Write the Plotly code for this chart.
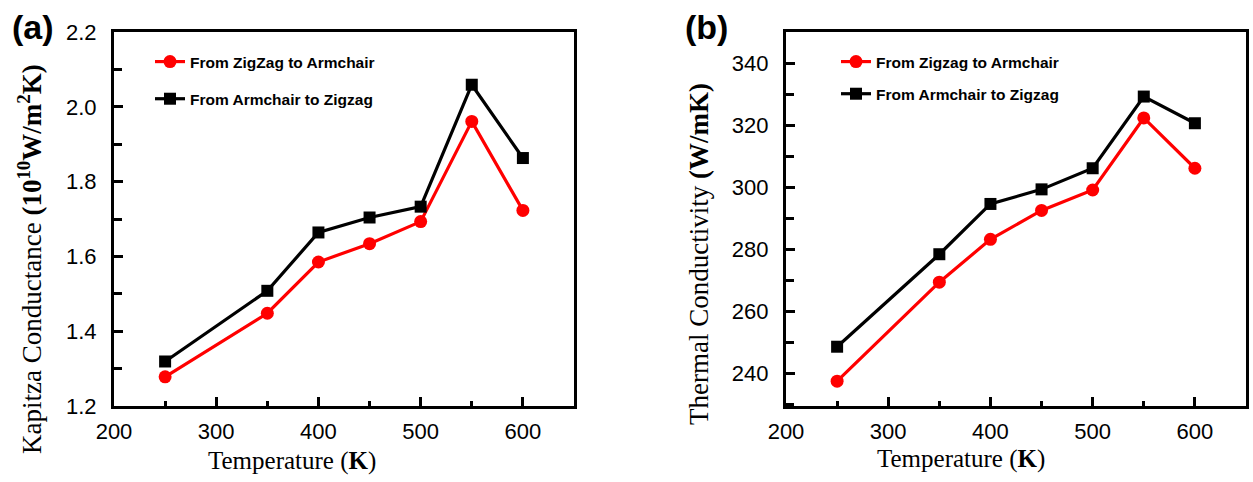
import plotly.graph_objects as go

W, H = 1253, 482

temps = [250, 350, 400, 450, 500, 550, 600]
# panel (a) Kapitza conductance (1e10 W/m^2K)
kap_zz_to_ac = [1.278, 1.448, 1.585, 1.634, 1.693, 1.961, 1.723]
kap_ac_to_zz = [1.319, 1.508, 1.664, 1.704, 1.733, 2.059, 1.863]
# panel (b) thermal conductivity (W/mK)
tc_zz_to_ac = [237.5, 269.4, 283.2, 292.5, 299.1, 322.3, 306.1]
tc_ac_to_zz = [248.6, 278.4, 294.6, 299.3, 306.1, 329.2, 320.6]

names_a = ["From ZigZag to Armchair", "From Armchair to Zigzag"]
names_b = ["From Zigzag to Armchair", "From Armchair to Zigzag"]

RED = "#ff0000"
BLACK = "#000000"
SANS = "Arial, Liberation Sans, sans-serif"
SERIF = "Times New Roman, Liberation Serif, serif"


def px_x(p):
    return p / W


def px_y(p):
    return 1 - p / H


fig = go.Figure()

fig.add_trace(go.Scatter(x=temps, y=kap_zz_to_ac, name=names_a[0], mode="lines+markers",
                         line=dict(color=RED, width=3.2), marker=dict(symbol="circle", size=13, color=RED),
                         xaxis="x", yaxis="y", legend="legend", legendgroup="a1"))
fig.add_trace(go.Scatter(x=temps, y=kap_ac_to_zz, name=names_a[1], mode="lines+markers",
                         line=dict(color=BLACK, width=3.2), marker=dict(symbol="square", size=12, color=BLACK),
                         xaxis="x", yaxis="y", legend="legend", legendgroup="a2"))
fig.add_trace(go.Scatter(x=temps, y=tc_zz_to_ac, name=names_b[0], mode="lines+markers",
                         line=dict(color=RED, width=3.2), marker=dict(symbol="circle", size=13, color=RED),
                         xaxis="x2", yaxis="y2", legend="legend2", legendgroup="b1"))
fig.add_trace(go.Scatter(x=temps, y=tc_ac_to_zz, name=names_b[1], mode="lines+markers",
                         line=dict(color=BLACK, width=3.2), marker=dict(symbol="square", size=12, color=BLACK),
                         xaxis="x2", yaxis="y2", legend="legend2", legendgroup="b2"))

common_axis = dict(showline=True, linewidth=3.2, linecolor=BLACK, mirror=True,
                   ticks="inside", ticklen=9, tickwidth=2.5, tickcolor=BLACK,
                   showgrid=False, zeroline=False, automargin=False,
                   tickfont=dict(family=SANS, size=22, color=BLACK))

xa = dict(common_axis, range=[200, 650], dtick=100, tick0=0,
          minor=dict(ticks="inside", ticklen=5, tickwidth=2.5, tickcolor=BLACK, dtick=50, tick0=0),
          ticklabelstandoff=3)

top = 32
bottom = 406
ydom = [px_y(bottom), px_y(top)]

fig.update_layout(
    width=W, height=H,
    margin=dict(l=0, r=0, t=0, b=0, pad=0, autoexpand=False),
    paper_bgcolor="white", plot_bgcolor="white",
    xaxis=dict(xa, domain=[px_x(114), px_x(574)], anchor="y"),
    yaxis=dict(common_axis, domain=ydom, anchor="x", range=[1.2, 2.2], dtick=0.2, tick0=0,
               tickformat=".1f", ticklabelstandoff=10,
               minor=dict(ticks="inside", ticklen=8, tickwidth=2.5, tickcolor=BLACK, dtick=0.1, tick0=0)),
    xaxis2=dict(xa, domain=[px_x(786), px_x(1246)], anchor="y2"),
    yaxis2=dict(common_axis, domain=ydom, anchor="x2", range=[229.5, 350], dtick=20, tick0=0,
                ticklabelstandoff=10,
                minor=dict(ticks="inside", ticklen=8, tickwidth=2.5, tickcolor=BLACK, dtick=10, tick0=0)),
    legend=dict(x=px_x(150), y=px_y(45), xanchor="left", yanchor="top",
                bgcolor="rgba(0,0,0,0)", font=dict(family=SANS, size=15.5, color=BLACK, weight="bold"),
                tracegroupgap=14, traceorder="grouped"),
    legend2=dict(x=px_x(836), y=px_y(45), xanchor="left", yanchor="top",
                 bgcolor="rgba(0,0,0,0)", font=dict(family=SANS, size=15.5, color=BLACK, weight="bold"),
                 tracegroupgap=9, traceorder="grouped"),
    showlegend=True,
)

annos = [
    dict(text="<b>(a)</b>", x=px_x(33), y=px_y(27), font=dict(family=SANS, size=34, color=BLACK)),
    dict(text="<b>(b)</b>", x=px_x(706), y=px_y(27), font=dict(family=SANS, size=34, color=BLACK)),
    dict(text="Temperature (<b>K</b>)", x=px_x(292), y=px_y(461), font=dict(family=SERIF, size=25, color=BLACK)),
    dict(text="Temperature (<b>K</b>)", x=px_x(961), y=px_y(459), font=dict(family=SERIF, size=25, color=BLACK)),
    dict(text="Kapitza Conductance <b>(10<sup>10</sup>W/m<sup>2</sup>K)</b>", x=px_x(30), y=px_y(259),
         textangle=-90, font=dict(family=SERIF, size=27, color=BLACK)),
    dict(text="Thermal Conductivity <b>(W/mK)</b>", x=px_x(699), y=px_y(254),
         textangle=-90, font=dict(family=SERIF, size=27, color=BLACK)),
]
for a in annos:
    fig.add_annotation(xref="paper", yref="paper", xanchor="center", yanchor="middle",
                       showarrow=False, **a)

fig.write_html("out.html", config={"displayModeBar": False},
               post_script="document.body.style.margin='0px';")
